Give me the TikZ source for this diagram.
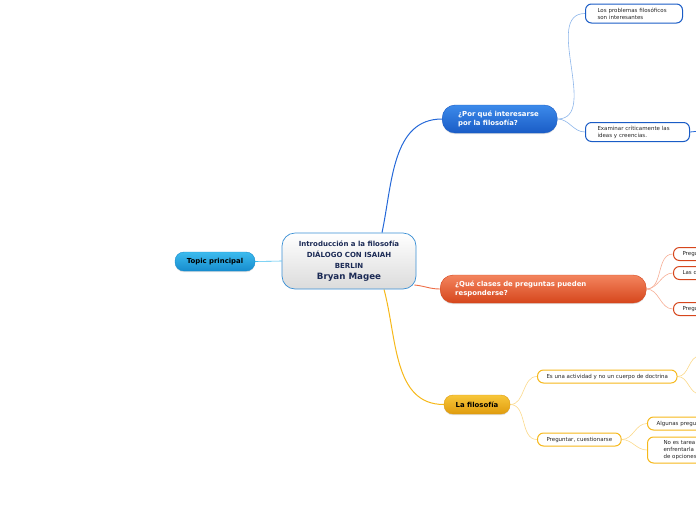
\documentclass[tikz,border=0pt]{standalone}
\usepackage{fontspec}
\setmainfont{DejaVu Sans}
\usetikzlibrary{shadows}
\definecolor{rootline}{HTML}{3A8FD4}
\definecolor{rootnavy}{HTML}{1B2A55}
\definecolor{topicA}{HTML}{3CBBEE}
\definecolor{topicB}{HTML}{168CCE}
\definecolor{blueA}{HTML}{3C8AEA}
\definecolor{blueB}{HTML}{1A5CC6}
\definecolor{blueline}{HTML}{2468D8}
\definecolor{bluesub}{HTML}{8DB6EA}
\definecolor{orangeA}{HTML}{F3845E}
\definecolor{orangeB}{HTML}{D6461C}
\definecolor{orangeline}{HTML}{EE6E48}
\definecolor{orangesub}{HTML}{F6AE96}
\definecolor{yellowA}{HTML}{F7C63A}
\definecolor{yellowB}{HTML}{E09C0E}
\definecolor{yellowline}{HTML}{F6B81A}
\definecolor{yellowsub}{HTML}{FBD98A}
\pgfdeclarelayer{background}
\pgfsetlayers{background,main}
\begin{document}
\begin{tikzpicture}[
    x=1pt, y=-1pt,
    central/.style={draw=rootline, line width=0.7pt, rounded corners=13pt, top color=white, bottom color=gray!28,
        minimum width=134pt, minimum height=56pt, align=center, text=rootnavy, inner sep=0pt,
        font=\bfseries\fontsize{7}{11}\selectfont},
    pill/.style={rounded corners=9pt, font=\bfseries\fontsize{6.9}{9.5}\selectfont, inner ysep=0pt,
        drop shadow={opacity=0.25, shadow xshift=0pt, shadow yshift=-1.2pt}},
    topic/.style={pill, draw=topicB, top color=topicA, bottom color=topicB, minimum width=80pt, minimum height=19pt},
    mainblue/.style={pill, rounded corners=13pt, draw=blueB, top color=blueA, bottom color=blueB, text=white,
        text width=83pt, inner xsep=16pt, minimum height=28pt, align=left, font=\bfseries\fontsize{6.9}{9.5}\selectfont},
    mainorange/.style={pill, rounded corners=13pt, draw=orangeB, top color=orangeA, bottom color=orangeB, text=white,
        text width=176pt, inner xsep=15pt, minimum height=28pt, align=left, font=\bfseries\fontsize{6.9}{9.5}\selectfont},
    mainyellow/.style={pill, draw=yellowB, top color=yellowA, bottom color=yellowB, minimum width=66pt, minimum height=19pt},
    sub/.style={fill=white, line width=1pt, rounded corners=6pt, align=left, inner ysep=1pt,
        font=\fontsize{5.5}{6.8}\selectfont, text=black!85},
    subblue/.style={sub, draw=blueB, text width=#1, inner xsep=12pt, minimum height=19pt},
    suborange/.style={sub, draw=orangeB, text width=50pt, inner xsep=9pt, minimum height=13pt},
    subyellow/.style={sub, draw=yellowline, inner xsep=9pt, minimum height=13pt},
    link/.style={line width=#1}
]
    \useasboundingbox (0,0) rectangle (696,520);
    \clip (0,0) rectangle (696,520);

    % Nodes
    \node[central] (root) at (349,261) {Introducción a la filosofía\\
        DIÁLOGO CON ISAIAH\\
        BERLIN\\
        {\fontsize{8.7}{11}\selectfont Bryan Magee}};
    \node[topic] (topic) at (215,261.5) {Topic principal};

    \node[mainblue, anchor=west] (porque) at (442,119) {¿Por qué interesarse\\por la filosofía?};
    \node[subblue=73pt, anchor=west] (problemas) at (585,13.5) {Los problemas filosóficos\\son interesantes};
    \node[subblue=80pt, anchor=west] (examinar) at (585,132) {Examinar críticamente las\\ideas y creencias.};

    \node[mainorange, anchor=west] (clases) at (440,289) {¿Qué clases de preguntas pueden\\responderse?};
    \node[suborange, anchor=west] (preguA) at (673,254) {Pregu};
    \node[suborange, anchor=west] (lasq) at (673,273) {Las q};
    \node[suborange, anchor=west] (preguB) at (673,309) {Pregu};

    \node[mainyellow] (filosofia) at (477,404.5) {La filosofía};
    \node[subyellow, anchor=west] (actividad) at (537,376.5) {Es una actividad y no un cuerpo de doctrina};
    \node[subyellow, anchor=west] (preguntar) at (537,439.5) {Preguntar, cuestionarse};
    \node[subyellow, text width=60pt, anchor=west] (algunas) at (647,423.5) {Algunas pregu};
    \node[subyellow, text width=60pt, inner xsep=16pt, minimum height=26pt, anchor=west] (noes) at (647,450) {No es tarea\\enfrentarla a\\de opciones};

    % Free ends beyond the edge
    \coordinate (examinarout) at (700,131);
    \coordinate (actividadup) at (700,356);
    \coordinate (actividaddown) at (700,394);

    % Connectors
    \begin{pgfonlayer}{background}
    \draw[link=0.6pt, topicA] (topic.east) -- (root.west);
    \draw[link=1pt, blueline] ([xshift=33pt]root.north) to[out=78, in=180] (porque.west);
    \draw[link=0.9pt, orangeline] ([xshift=-2pt, yshift=-24pt]root.east) to[out=-5, in=180] (clases.west);
    \draw[link=1pt, yellowline] ([xshift=35pt]root.south) to[out=-75, in=180] (filosofia.west);

    \draw[link=0.6pt, bluesub] (porque.east) to[out=0, in=180] (problemas.west);
    \draw[link=0.6pt, bluesub] (porque.east) to[out=0, in=180] (examinar.west);
    \draw[link=0.8pt, blueline] (examinar.east) -- (examinarout);

    \draw[link=0.6pt, orangesub] (clases.east) to[out=0, in=180] (preguA.west);
    \draw[link=0.6pt, orangesub] (clases.east) to[out=0, in=180] (lasq.west);
    \draw[link=0.6pt, orangesub] (clases.east) to[out=0, in=180] (preguB.west);

    \draw[link=0.6pt, yellowsub] (filosofia.east) to[out=0, in=180] (actividad.west);
    \draw[link=0.6pt, yellowsub] (filosofia.east) to[out=0, in=180] (preguntar.west);
    \draw[link=0.6pt, yellowsub] (actividad.east) to[out=0, in=180] (actividadup);
    \draw[link=0.6pt, yellowsub] (actividad.east) to[out=0, in=180] (actividaddown);
    \draw[link=0.6pt, yellowsub] (preguntar.east) to[out=0, in=180] (algunas.west);
    \draw[link=0.6pt, yellowsub] (preguntar.east) to[out=0, in=180] (noes.west);
    \end{pgfonlayer}
\end{tikzpicture}
\end{document}
